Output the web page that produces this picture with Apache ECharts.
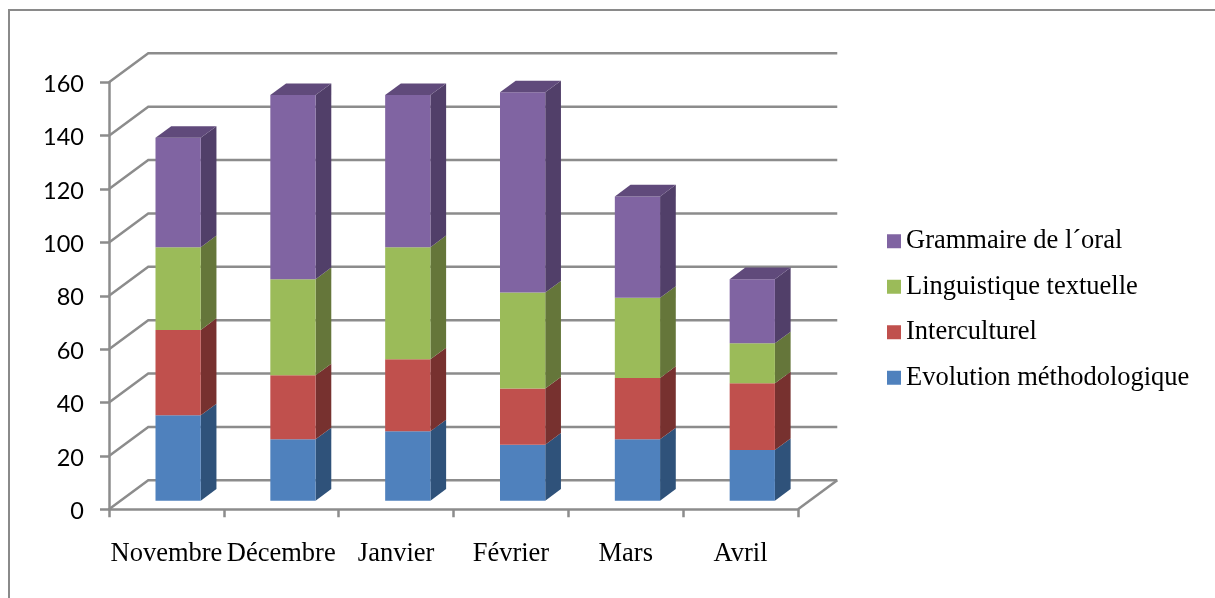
<!DOCTYPE html>
<html>
<head>
<meta charset="utf-8">
<style>html,body{margin:0;padding:0;background:#fff}#c{width:1215px;height:598px}</style>
<script src="https://cdn.jsdelivr.net/npm/echarts@6/dist/echarts.min.js"></script>
</head>
<body>
<div id="c"></div>
<script>
const categories = ['Novembre', 'Décembre', 'Janvier', 'Février', 'Mars', 'Avril'];
const evolution = [32, 23, 26, 21, 23, 19];
const interculturel = [32, 24, 27, 21, 23, 25];
const linguistique = [31, 36, 42, 36, 30, 15];
const grammaire = [41, 69, 57, 75, 38, 24];
const yTicks = [0, 20, 40, 60, 80, 100, 120, 140, 160];

const names = ['Evolution méthodologique', 'Interculturel', 'Linguistique textuelle', 'Grammaire de l´oral'];
const values = [evolution, interculturel, linguistique, grammaire];
const front = ['#4F81BD', '#C0504D', '#9BBB59', '#8064A2'];
const side = ['#2F527A', '#77312F', '#65763A', '#513F69'];
const topFace = '#604A7B';

const GREY = '#8c8c8c';
const WALL_X = 0.342, WALL_Y = 0.252;   // wall depth, in category bands
const BAR_START = 0.298, BAR_DEPTH = 0.4; // bar placement inside the wall depth
const BAR_WIDTH = 0.394;

function gridlines(params, api) {
  const band = api.size([1, 0])[0];
  const dx = band * WALL_X, dy = band * WALL_Y;
  const cs = params.coordSys;
  const v = api.value(0);
  const y = api.coord([0, v])[1];
  const x0 = cs.x, x1 = cs.x + cs.width;
  const style = { stroke: GREY, lineWidth: 2.5, fill: null };
  const children = [{
    type: 'polyline',
    shape: { points: [[x0, y], [x0 + dx, y - dy], [x1 + dx, y - dy]] },
    style
  }];
  if (v === 0) {
    children.push({
      type: 'line',
      shape: { x1: x1, y1: y, x2: x1 + dx, y2: y - dy },
      style
    });
  }
  return { type: 'group', children };
}

function boxRenderer(si) {
  return function (params, api) {
    const i = api.value(0);
    const base = api.value(1), val = api.value(2);
    const band = api.size([1, 0])[0];
    const wx = band * WALL_X, wy = band * WALL_Y;
    const ox = wx * BAR_START, oy = wy * BAR_START;
    const bx = wx * BAR_DEPTH, by = wy * BAR_DEPTH;
    const c0 = api.coord([i, base]), c1 = api.coord([i, base + val]);
    const w = band * BAR_WIDTH;
    const l = c0[0] - w / 2 + ox, r = l + w;
    const yb = c0[1] - oy, yt = c1[1] - oy;
    const children = [
      { type: 'polygon', shape: { points: [[r, yb], [r + bx, yb - by], [r + bx, yt - by], [r, yt]] }, style: { fill: side[si] } },
      { type: 'rect', shape: { x: l, y: yt, width: w, height: yb - yt }, style: { fill: front[si] } }
    ];
    if (si === values.length - 1) {
      children.push({ type: 'polygon', shape: { points: [[l, yt], [l + bx, yt - by], [r + bx, yt - by], [r, yt]] }, style: { fill: topFace } });
    }
    return { type: 'group', children };
  };
}

const series = [{
  type: 'custom',
  name: '_walls',
  silent: true,
  z: 1,
  renderItem: gridlines,
  encode: { y: 0 },
  data: yTicks.map(v => [v])
}];

names.forEach((name, si) => {
  series.push({
    type: 'custom',
    name,
    z: 2 + si,
    itemStyle: { color: front[si] },
    renderItem: boxRenderer(si),
    encode: { x: 0, y: [1, 2] },
    data: categories.map((_, i) => {
      let base = 0;
      for (let k = 0; k < si; k++) base += values[k][i];
      return [i, base, values[si][i]];
    })
  });
});

const chart = echarts.init(document.getElementById('c'), null, { renderer: 'canvas' });
chart.setOption({
  animation: false,
  backgroundColor: '#fff',
  grid: { left: 109, right: 417, top: 82.3, bottom: 88.7, containLabel: false },
  graphic: [{
    type: 'polyline',
    silent: true,
    shape: { points: [[9, 598], [9, 10], [1215, 10]] },
    style: { stroke: '#8a8a8a', lineWidth: 2, fill: null }
  }],
  legend: {
    orient: 'vertical',
    left: 882,
    top: 221,
    itemWidth: 14,
    itemHeight: 14,
    itemGap: 15,
    icon: 'rect',
    selectedMode: false,
    data: names.slice().reverse(),
    textStyle: { fontFamily: 'Liberation Serif', fontSize: 26.5, color: '#000', lineHeight: 30.5 }
  },
  xAxis: {
    type: 'category',
    data: categories,
    boundaryGap: true,
    axisLine: { show: true, lineStyle: { color: GREY, width: 2.5 } },
    axisTick: { show: true, alignWithLabel: false, length: 8, lineStyle: { color: GREY, width: 2.5 } },
    axisLabel: { interval: 0, margin: 31, fontFamily: 'Liberation Serif', fontSize: 26.5, color: '#000' },
    splitLine: { show: false }
  },
  yAxis: {
    type: 'value',
    min: 0,
    max: 160,
    interval: 20,
    axisLine: { show: true, lineStyle: { color: GREY, width: 2.5 } },
    axisTick: { show: true, length: 9, lineStyle: { color: GREY, width: 2.5 } },
    axisLabel: { margin: 25, verticalAlign: 'top', lineHeight: 4, fontFamily: 'Lato', fontSize: 23.5, color: '#000' },
    splitLine: { show: false }
  },
  series
});
</script>
</body>
</html>
